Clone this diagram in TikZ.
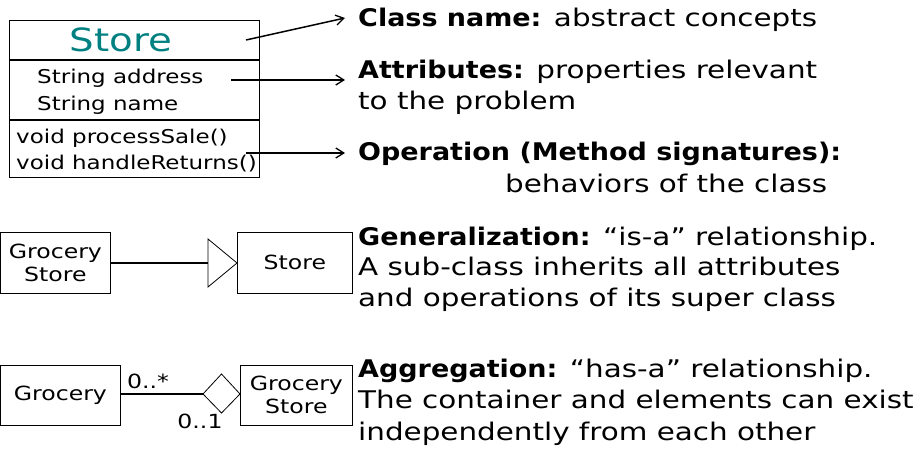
\documentclass[tikz,border=0pt]{standalone}
\usepackage{fontspec}
\setmainfont{DejaVu Sans}[FakeStretch=1.21, BoldFeatures={FakeStretch=1.11}]
\usetikzlibrary{arrows.meta}
\definecolor{titleteal}{RGB}{0,128,128}
\tikzset{
  thinbox/.style={draw=black, line width=0.8pt},
  thickrule/.style={line width=1.8pt},
  pointer/.style={line width=1.5pt, -{Straight Barb[length=8pt,width=10pt,line width=1.3pt]}},
  desc/.style={anchor=base west, inner sep=0pt, font=\fontsize{24.3}{28}\selectfont},
  boxtxt/.style={inner sep=0pt, font=\fontsize{19.5}{23}\selectfont},
  boxline/.style={anchor=base west, inner sep=0pt, font=\fontsize{19}{22}\selectfont},
  link/.style={line width=1.8pt}
}
\begin{document}
\begin{tikzpicture}[x=1pt,y=-1pt]
\useasboundingbox (0,0) rectangle (922,462);
% Store class box
\node[thinbox, minimum width=250pt, minimum height=157pt, anchor=north west, inner sep=0pt] (cls) at (9,20) {};
\draw[thickrule] (9,60) -- (259,60);
\draw[thickrule] (9,120) -- (259,120);
\node[inner sep=0pt, text=titleteal, font=\fontsize{32}{34}\selectfont] (title) at (121,40) {Store};
\node[boxline] (a1) at (37,84) {String address};
\node[boxline] (a2) at (37,111) {String name};
\node[boxline] (o1) at (16,144) {void processSale()};
\node[boxline] (o2) at (16,170) {void handleReturns()};
\coordinate (s1) at (246,40);
\coordinate (s2) at (231,80);
\coordinate (s3) at (246,153);
% descriptions
\node[desc] (d1) at (358,27) {\textbf{Class name:} abstract concepts};
\node[desc] (d2) at (358,79) {\textbf{Attributes:} properties relevant};
\node[desc] (d2b) at (358,110) {to the problem};
\node[desc] (d3) at (358,161) {\textbf{Operation (Method signatures):}};
\node[desc] (d3b) at (505,193) {behaviors of the class};
\draw[pointer] (s1) -- (345,18) coordinate (e1);
\draw[pointer] (s2) -- (345,80) coordinate (e2);
\draw[pointer] (s3) -- (345,153) coordinate (e3);
% Generalization
\node[thinbox, minimum width=110pt, minimum height=61pt, anchor=north west, inner sep=0pt] (gs) at (0,232) {};
\node[boxtxt, align=center] at (gs.center) {Grocery\\Store};
\node[thinbox, minimum width=115pt, minimum height=61pt, anchor=north west, inner sep=0pt] (st) at (237,232) {};
\node[boxtxt] at (st.center) {Store};
\coordinate (tri) at (208,263);
\draw[link] (gs.east |- tri) -- (tri);
\draw[line width=0.8pt, fill=white] (208,239) -- (st.west |- tri) -- (208,287) -- cycle;
\node[desc] (g1) at (358,246) {\textbf{Generalization:} “is-a” relationship.};
\node[desc] (g2) at (358,276) {A sub-class inherits all attributes};
\node[desc] (g3) at (358,307) {and operations of its super class};
% Aggregation
\node[thinbox, minimum width=120pt, minimum height=60pt, anchor=north west, inner sep=0pt] (gr) at (0,365) {};
\node[boxtxt] at (gr.center) {Grocery};
\node[thinbox, minimum width=112pt, minimum height=60pt, anchor=north west, inner sep=0pt] (gst) at (240,365) {};
\node[boxtxt, align=center] at (gst.center) {Grocery\\Store};
\coordinate (dia) at (203,394);
\draw[link] (gr.east |- dia) -- (dia);
\draw[line width=0.8pt, fill=white] (dia) -- (221.5,374) -- (gst.west |- dia) -- (221.5,413) -- cycle;
\node[boxtxt] (m1) at (148,381) {0..*};
\node[boxtxt] (m2) at (200,421) {0..1};
\node[desc] (h1) at (358,378) {\textbf{Aggregation:} “has-a” relationship.};
\node[desc] (h2) at (358,409) {The container and elements can exist};
\node[desc] (h3) at (358,441) {independently from each other};
\end{tikzpicture}
\end{document}
